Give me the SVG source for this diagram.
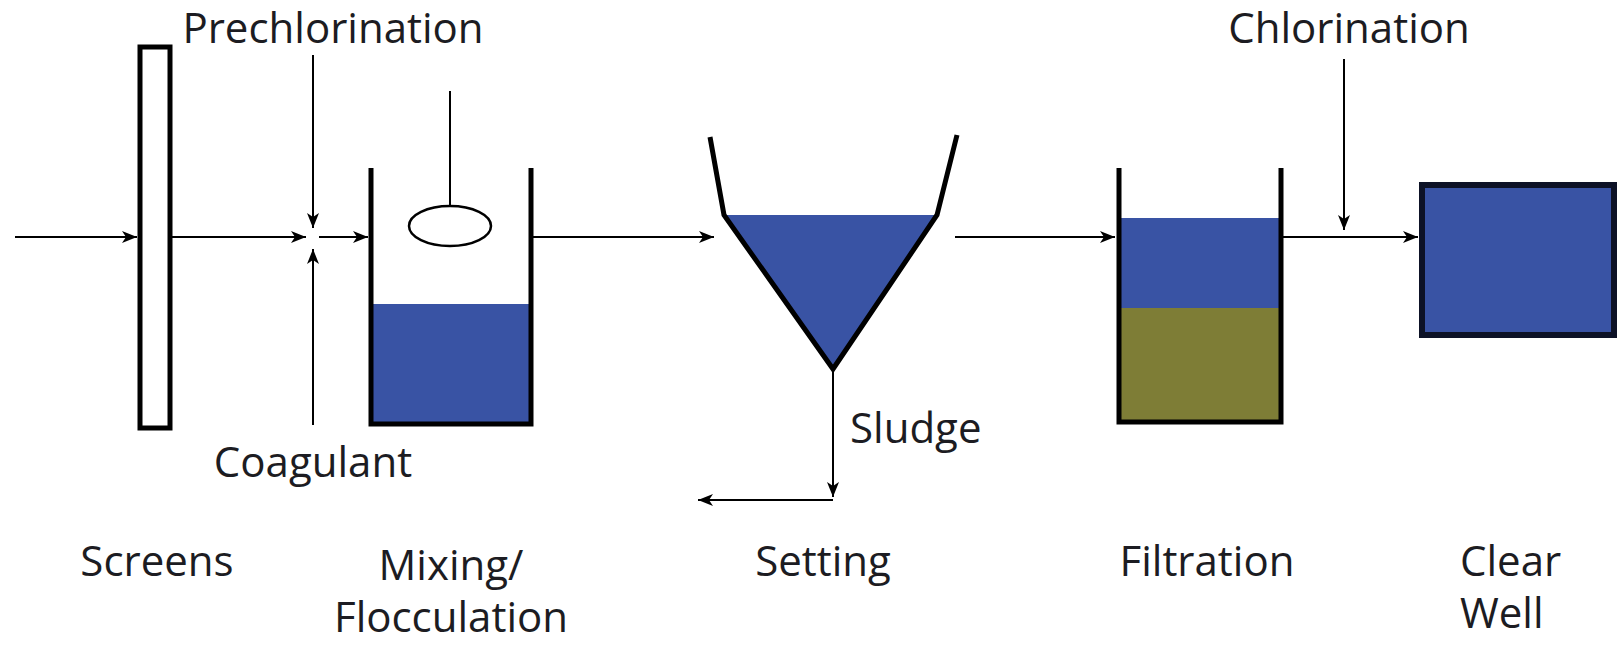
<svg xmlns="http://www.w3.org/2000/svg" width="1620" height="645" viewBox="0 0 1620 645">
<style>
  text { font-family: "Open Sans", "Liberation Sans", sans-serif; font-size: 42px; fill: #1c1c22; }
  .conn { stroke: #000; stroke-width: 2; fill: none; }
  .wall { stroke: #000; stroke-width: 5; fill: none; stroke-linecap: butt; }
  .water { fill: #3953a4; }
  .media { fill: #7e7d36; }
</style>
<defs>
  <marker id="arr" markerUnits="userSpaceOnUse" markerWidth="16" markerHeight="12" viewBox="0 0 16 12" refX="15" refY="6" orient="auto">
    <path d="M0,0 L15,6 L0,12 L4,6 Z" fill="#000"/>
  </marker>
</defs>
<rect width="1620" height="645" fill="#fff"/>

<g id="screens">
  <rect x="140" y="47" width="30" height="381" fill="#fff" stroke="#000" stroke-width="5"/>
  <text x="157" y="576" text-anchor="middle">Screens</text>
</g>

<g id="prechlorination">
  <text x="333" y="43" text-anchor="middle">Prechlorination</text>
</g>

<g id="coagulant">
  <text x="313" y="477" text-anchor="middle">Coagulant</text>
</g>

<g id="mixing">
  <rect class="water" x="371" y="304" width="160" height="120"/>
  <polyline class="wall" points="371,168 371,424 531,424 531,168"/>
  <line x1="450" y1="91" x2="450" y2="206" stroke="#000" stroke-width="2"/>
  <ellipse cx="450" cy="226" rx="41" ry="20" fill="#fff" stroke="#000" stroke-width="2.5"/>
  <text text-anchor="middle"><tspan x="451" y="580">Mixing/</tspan><tspan x="451" y="632">Flocculation</tspan></text>
</g>

<g id="settling">
  <polygon class="water" points="724,215 937,215 833,369"/>
  <polyline class="wall" points="710,137 724,215 833,369 937,215 957,135" stroke-linejoin="miter"/>
  <text x="850" y="443">Sludge</text>
  <text x="823" y="576" text-anchor="middle">Setting</text>
</g>

<g id="filtration">
  <rect class="water" x="1119" y="218" width="162" height="90"/>
  <rect class="media" x="1119" y="308" width="162" height="114"/>
  <polyline class="wall" points="1119,168 1119,422 1281,422 1281,168"/>
  <text x="1207" y="576" text-anchor="middle">Filtration</text>
</g>

<g id="chlorination">
  <text x="1349" y="43" text-anchor="middle">Chlorination</text>
</g>

<g id="clearwell">
  <rect class="water" x="1422" y="185" width="192" height="150" stroke="#0d1226" stroke-width="6"/>
  <text><tspan x="1460" y="576">Clear</tspan><tspan x="1460" y="628">Well</tspan></text>
</g>

<g id="connectors">
  <line class="conn" x1="15" y1="237" x2="137" y2="237" marker-end="url(#arr)"/>
  <line class="conn" x1="170" y1="237" x2="306" y2="237" marker-end="url(#arr)"/>
  <line class="conn" x1="313" y1="55" x2="313" y2="228" marker-end="url(#arr)"/>
  <line class="conn" x1="313" y1="425" x2="313" y2="249" marker-end="url(#arr)"/>
  <line class="conn" x1="319" y1="237" x2="368" y2="237" marker-end="url(#arr)"/>
  <line class="conn" x1="533" y1="237" x2="714" y2="237" marker-end="url(#arr)"/>
  <line class="conn" x1="833" y1="369" x2="833" y2="497" marker-end="url(#arr)"/>
  <line class="conn" x1="833" y1="500" x2="698" y2="500" marker-end="url(#arr)"/>
  <line class="conn" x1="955" y1="237" x2="1115" y2="237" marker-end="url(#arr)"/>
  <line class="conn" x1="1283" y1="237" x2="1418" y2="237" marker-end="url(#arr)"/>
  <line class="conn" x1="1344" y1="59" x2="1344" y2="230" marker-end="url(#arr)"/>
</g>
</svg>
